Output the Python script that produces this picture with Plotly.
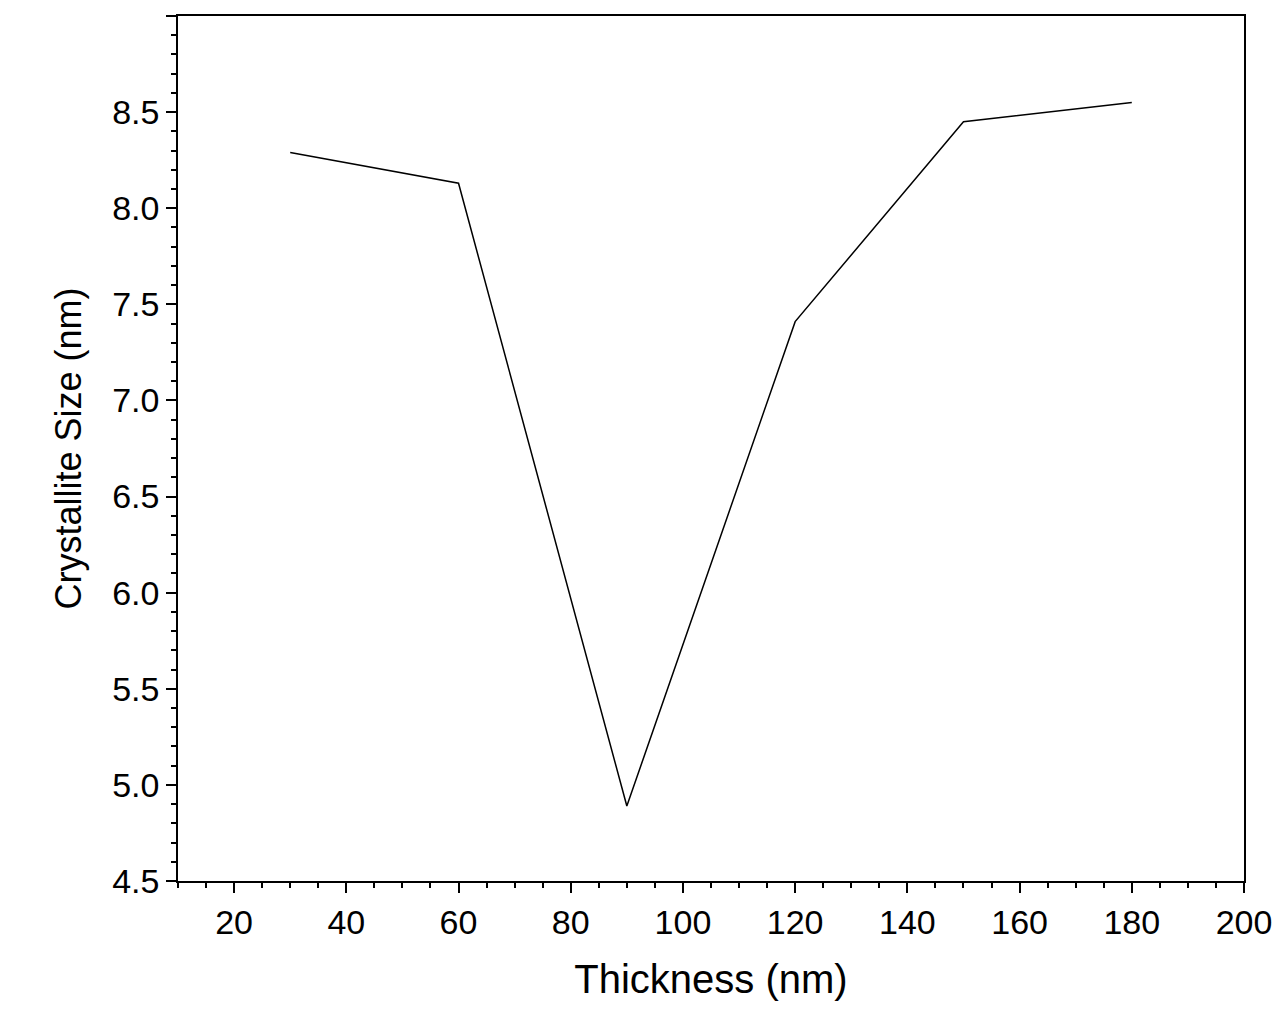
import plotly.graph_objects as go

thickness = [30, 60, 90, 120, 150, 180]
crystallite_size = [8.29, 8.13, 4.89, 7.41, 8.45, 8.55]

fig = go.Figure(go.Scatter(
    x=thickness, y=crystallite_size, mode="lines",
    line=dict(color="black", width=1.5),
))

axis_common = dict(
    showline=True, linecolor="black", linewidth=1.5, mirror=True,
    ticks="outside", ticklen=10, tickwidth=1.5, tickcolor="black",
    showgrid=False, zeroline=False,
    tickfont=dict(size=34, color="black"),
    minor=dict(ticks="outside", ticklen=5, tickwidth=1.5, tickcolor="black"),
)

fig.update_xaxes(range=[10, 200], tick0=20, dtick=20,
                 title=dict(text="Thickness (nm)", font=dict(size=40, color="black"), standoff=25),
                 **axis_common)
fig.update_yaxes(range=[4.5, 9.0], tick0=4.5, dtick=0.5, tickformat=".1f",
                 title=dict(text="Crystallite Size (nm)", font=dict(size=36, color="black"), standoff=20),
                 **axis_common)

fig.update_layout(
    width=1280, height=1023,
    margin=dict(l=170, r=44, t=6, b=150),
    plot_bgcolor="white", paper_bgcolor="white",
    font=dict(family="Liberation Sans, Arial, sans-serif"),
    showlegend=False,
)

fig.write_html("out.html")
